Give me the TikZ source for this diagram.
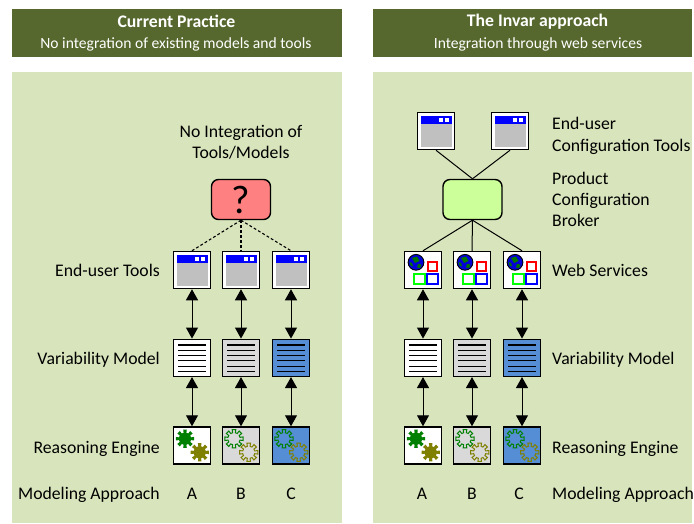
\documentclass[tikz,border=0pt]{standalone}
\usepackage{fontspec}
\setmainfont{Carlito}
\usetikzlibrary{arrows.meta,calc}
\definecolor{panelgreen}{HTML}{D8E4BC}
\definecolor{headgreen}{HTML}{56682D}
\definecolor{modelblue}{HTML}{558ED5}
\definecolor{greylight}{HTML}{D9D9D9}
\definecolor{midgrey}{HTML}{C0C0C0}
\definecolor{qred}{HTML}{FF8080}
\definecolor{brokergreen}{HTML}{CCFF99}
\definecolor{gearolive}{HTML}{808000}
\definecolor{geargreen}{HTML}{008000}
\tikzset{
  panel/.style={fill=panelgreen,draw=none,minimum width=#1,minimum height=451pt,anchor=north west,inner sep=0pt},
  header/.style={fill=headgreen,draw=none,text=white,minimum width=#1,minimum height=48pt,anchor=north west,inner sep=0pt,align=center},
  lbl/.style={font=\fontsize{17.7}{21.3}\selectfont,text=black,inner sep=0pt},
  sublbl/.style={font=\fontsize{15.6}{18}\selectfont,text=white,inner sep=0pt},
  iconbox/.style={draw=black,line width=1.5pt,fill=#1,minimum size=37pt,inner sep=0pt},
  link/.style={draw=black,line width=1pt},
  dlink/.style={draw=black,line width=1.1pt,dash pattern=on 2.8pt off 2.2pt},
  twoway/.style={draw=black,line width=1pt,{Triangle[width=12pt,length=11pt]}-{Triangle[width=12pt,length=11pt]},shorten >=0pt,shorten <=0pt},
  hub/.style={draw=black,line width=1.4pt,fill=#1,rounded corners=7pt,minimum width=59pt,minimum height=40pt,inner sep=0pt},
  gear/.style={line width=1pt,line join=miter}
}
\newcommand{\gearshape}[4]{% x y radius style
  \path[#4] (#1,#2) ++(-11:#3)
  \foreach \a in {0,45,...,315}{
    -- ($(#1,#2)+(\a-11:#3)$) -- ($(#1,#2)+(\a+11:#3)$)
    -- ($(#1,#2)+(\a+13:#3*0.66)$) -- ($(#1,#2)+(\a+32:#3*0.66)$)
  } -- cycle;
}
\newcommand{\winicon}[3]{% name x y
  \node[iconbox=white] (#1) at (#2,#3) {};
  \begin{scope}[shift={(#2,#3)}]
    \fill[midgrey] (-15.5,-15.5) rectangle (15.5,15.7);
    \fill[blue] (-15.5,-15.5) rectangle (15.5,-7);
    \fill[white] (3.2,-13.3) rectangle (7,-9.3);
    \fill[white] (8.9,-13.3) rectangle (12.9,-9.3);
  \end{scope}
}
\newcommand{\txticon}[4]{% name x y fill
  \node[iconbox=#4] (#1) at (#2,#3) {};
  \foreach \dy in {-12.8,-7.5,-2.2,3.1,8.4,13.7}
    \draw[black,line width=1.1pt] ($(#2,#3)+(-13.8,\dy)$) -- ($(#2,#3)+(13.8,\dy)$);
}
\newcommand{\gearicon}[5]{% name x y fill solid?
  \node[iconbox=#4] (#1) at (#2,#3) {};
  \ifnum#5=1
    \gearshape{#2-7}{#3-6.8}{9.3}{fill=geargreen}
    \gearshape{#2+7.7}{#3+6.8}{9.3}{fill=gearolive}
  \else
    \gearshape{#2-7}{#3-6.8}{9.3}{draw=geargreen,gear}
    \gearshape{#2+7.7}{#3+6.8}{9.3}{draw=gearolive,gear}
  \fi
}
\newcommand{\wsicon}[3]{% name x y
  \node[iconbox=white] (#1) at (#2,#3) {};
  \begin{scope}[shift={(#2,#3)}]
    \fill[blue!85!black,draw=black,line width=0.9pt] (-7,-7.7) circle (7.9);
    \fill[green!45!black] (-11,-12) -- (-6,-13.5) -- (-3.5,-9) -- (-8,-7) -- cycle;
    \fill[green!45!black] (-5,-6) -- (-1.5,-5.5) -- (-3,-2) -- (-6,-2.5) -- cycle;
    \fill[green!45!black] (-13.5,-8) -- (-11,-7) -- (-10,-3.5) -- (-12.5,-4.5) -- cycle;
    \draw[red,line width=2.1pt] (4.6,-8.4) rectangle (14.4,1.4);
    \draw[green,line width=2.1pt] (-8.8,4.2) rectangle (1.9,14.4);
    \draw[blue,line width=2.1pt] (3.9,4.2) rectangle (15.1,14.4);
  \end{scope}
}
\begin{document}
\begin{tikzpicture}[x=1pt,y=-1pt]
\useasboundingbox (0,0) rectangle (694,523);
% panels
\node[panel=330pt] (panelL) at (12,72) {};
\node[panel=319pt] (panelR) at (373,72) {};
\node[header=330pt] (headL) at (12,9) {};
\node[header=319pt] (headR) at (373,9) {};
\node[lbl,text=white] (hL1) at (176.5,21.5) {\textbf{Current Practice}};
\node[sublbl] (hL2) at (176,44) {No integration of existing models and tools};
\node[lbl,text=white] (hR1) at (537.5,21.5) {\textbf{The Invar approach}};
\node[sublbl] (hR2) at (538,44) {Integration through web services};
% left column icons
\winicon{wa}{192}{270}\winicon{wb}{241}{270}\winicon{wc}{291}{270}
\txticon{ta}{192}{357.8}{white}\txticon{tb}{241}{357.8}{greylight}\txticon{tc}{291}{357.8}{modelblue}
\gearicon{ga}{192}{445.5}{white}{1}\gearicon{gb}{241}{445.5}{greylight}{0}\gearicon{gc}{291}{445.5}{modelblue}{0}
\node[hub=qred] (q) at (241,199.5) {\fontsize{40}{40}\selectfont ?};
\draw[dlink] (q.south) -- (wa.north);
\draw[dlink] (q.south) -- (wb.north);
\draw[dlink] (q.south) -- (wc.north);
\foreach \i in {a,b,c}{
  \draw[twoway] (w\i) -- (t\i);
  \draw[twoway] (t\i) -- (g\i);
}
\node[lbl,align=center] (noint) at (241,142) {No Integration of\\Tools/Models};
\node[lbl,anchor=east] (l1) at (160,270) {End-user Tools};
\node[lbl,anchor=east] (l2) at (160,360) {Variability Model};
\node[lbl,anchor=east] (l3) at (160,449) {Reasoning Engine};
\node[lbl,anchor=east] (l4) at (160,495) {Modeling Approach};
\node[lbl] (la) at (192,494) {A};
\node[lbl] (lb) at (241,494) {B};
\node[lbl] (lc) at (291,494) {C};
% right column
\winicon{ru1}{436}{131}\winicon{ru2}{510}{131}
\node[hub=brokergreen] (br) at (472.5,199.5) {};
\wsicon{sa}{423}{270}\wsicon{sb}{472}{270}\wsicon{sc}{522}{270}
\txticon{rta}{423}{357.8}{white}\txticon{rtb}{472}{357.8}{greylight}\txticon{rtc}{522}{357.8}{modelblue}
\gearicon{rga}{423}{445.5}{white}{1}\gearicon{rgb}{472}{445.5}{greylight}{0}\gearicon{rgc}{522}{445.5}{modelblue}{0}
\draw[link] (ru1.south) -- (br.north);
\draw[link] (ru2.south) -- (br.north);
\draw[link] (br.south) -- (sa.north);
\draw[link] (br.south) -- (sb.north);
\draw[link] (br.south) -- (sc.north);
\draw[twoway] (sa) -- (rta);\draw[twoway] (rta) -- (rga);
\draw[twoway] (sb) -- (rtb);\draw[twoway] (rtb) -- (rgb);
\draw[twoway] (sc) -- (rtc);\draw[twoway] (rtc) -- (rgc);
\node[lbl,anchor=west,align=left] (r1) at (552,136) {End-user\\Configuration Tools};
\node[lbl,anchor=west,align=left] (r2) at (552,199.5) {Product\\Configuration\\Broker};
\node[lbl,anchor=west] (r3) at (552,270) {Web Services};
\node[lbl,anchor=west] (r4) at (552,360) {Variability Model};
\node[lbl,anchor=west] (r5) at (552,449) {Reasoning Engine};
\node[lbl,anchor=west] (r6) at (552,495) {Modeling Approach};
\node[lbl] (ra) at (422,494) {A};
\node[lbl] (rb) at (472,494) {B};
\node[lbl] (rc) at (519,494) {C};
\end{tikzpicture}
\end{document}
